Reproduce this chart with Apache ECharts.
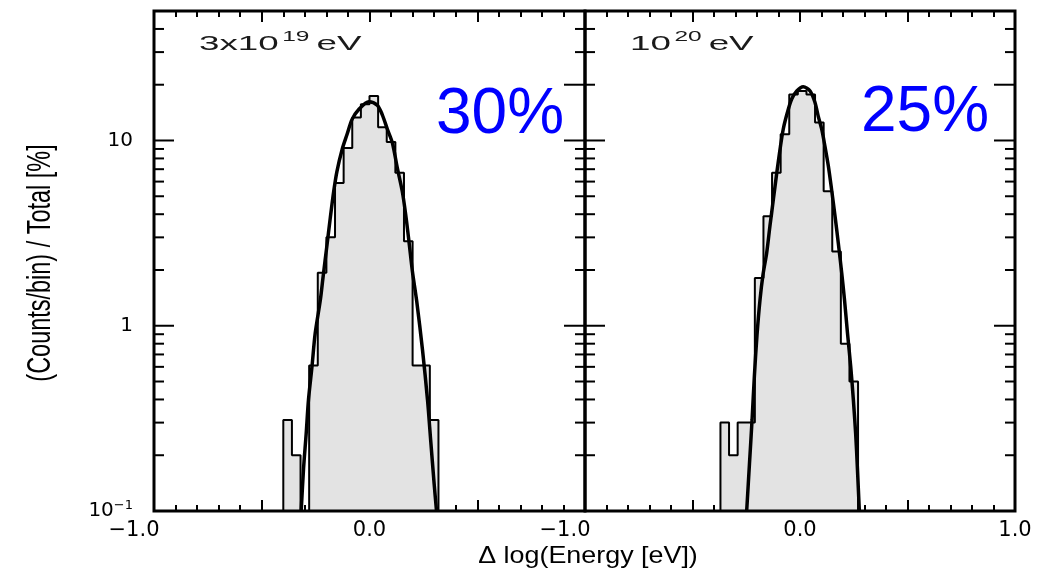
<!DOCTYPE html>
<html>
<head>
<meta charset="utf-8">
<script src="https://cdn.jsdelivr.net/npm/echarts@6/dist/echarts.min.js"></script>
<style>
html,body{margin:0;padding:0;background:#fff;}
#chart{width:1041px;height:577px;}
</style>
</head>
<body>
<div id="chart"></div>
<script>
// ---------------- data ----------------
const X_MIN = -1, X_MAX = 1;
const X_LABEL_VALUES = [-1, 0, 1];
const X_LABEL_TEXTS = ['\u22121.0', '0.0', '1.0'];
const Y_MIN = 0.1, Y_MAX = 50;
const Y_MAJOR_TICKS = [1, 10];
const Y_MINOR_TICKS = [0.2, 0.3, 0.4, 0.5, 0.6, 0.7, 0.8, 0.9, 2, 3, 4, 5, 6, 7, 8, 9, 20, 30, 40];
const Y_RIGHT_LONG_TICKS = [20];

// left panel: 3x10^19 eV
const leftEdges = [-0.40, -0.36, -0.32, -0.28, -0.24, -0.20, -0.16, -0.12, -0.08, -0.04, 0.00, 0.04, 0.08, 0.12, 0.16, 0.20, 0.24, 0.28, 0.32];
const leftCounts = [0.31, 0.20, 0, 0.61, 1.93, 3.0, 5.9, 9.1, 13.3, 15.7, 17.4, 11.8, 9.8, 6.7, 2.86, 0.61, 0.61, 0.31];
const leftFitX = [-0.317, -0.306, -0.294, -0.283, -0.267, -0.252, -0.228, -0.216, -0.197, -0.182, -0.166, -0.151, -0.127, -0.104, -0.081, -0.050, -0.003, 0.036, 0.059, 0.083, 0.106, 0.129, 0.152, 0.168, 0.183, 0.199, 0.219, 0.246, 0.269, 0.284, 0.300, 0.311];
const leftFitY = [0.10, 0.17, 0.26, 0.40, 0.60, 0.91, 1.38, 1.81, 2.74, 3.82, 5.32, 6.82, 8.94, 10.8, 13.0, 14.7, 16.2, 15.5, 13.8, 11.5, 9.72, 7.12, 5.32, 3.98, 2.86, 1.97, 1.36, 0.74, 0.40, 0.24, 0.14, 0.10];

// right panel: 10^20 eV
const rightEdges = [-0.37, -0.33, -0.29, -0.25, -0.21, -0.17, -0.13, -0.09, -0.05, -0.01, 0.03, 0.07, 0.11, 0.15, 0.19, 0.23, 0.27];
const rightCounts = [0.30, 0.20, 0.30, 0.30, 1.81, 3.9, 6.69, 10.8, 17.7, 18.5, 17.7, 12.5, 5.32, 2.52, 0.80, 0.50];
const rightFitX = [-0.248, -0.235, -0.223, -0.212, -0.200, -0.186, -0.172, -0.155, -0.140, -0.124, -0.108, -0.093, -0.078, -0.059, -0.039, -0.015, 0.015, 0.047, 0.070, 0.085, 0.101, 0.116, 0.132, 0.147, 0.163, 0.178, 0.194, 0.207, 0.221, 0.236, 0.248, 0.259, 0.267, 0.276];
const rightFitY = [0.10, 0.18, 0.31, 0.54, 0.89, 1.38, 1.89, 2.47, 3.44, 4.80, 6.69, 8.94, 11.5, 14.1, 16.7, 18.5, 19.5, 18.5, 16.0, 13.5, 11.5, 9.31, 7.26, 5.43, 3.90, 2.80, 1.93, 1.38, 0.91, 0.60, 0.40, 0.26, 0.17, 0.10];

const panelEnergyBase = ['3x10', '10'];
const panelEnergyExp = ['19', '20'];
const panelResolution = ['30%', '25%'];
const yAxisTitle = '(Counts/bin) / Total [%]';
const xAxisTitle = '\u0394 log(Energy [eV])';

// ---------------- helpers ----------------
function near(a, b) { return Math.abs(a - b) < 1e-6; }

function stepPoints(edges, counts) {
  const pts = [[edges[0], Y_MIN]];
  counts.forEach(function (c, i) {
    const v = Math.max(c, Y_MIN);
    pts.push([edges[i], v], [edges[i + 1], v]);
  });
  pts.push([edges[edges.length - 1], Y_MIN]);
  return pts;
}
function zip(xs, ys) { return xs.map(function (x, i) { return [x, ys[i]]; }); }

const FONT = '"Liberation Sans", Arial, sans-serif';
const TICK_FONT = '"DejaVu Sans", sans-serif';

function xAxisDef(gi, pos, labelValues) {
  return {
    type: 'value', gridIndex: gi, position: pos,
    min: X_MIN, max: X_MAX, interval: 0.5,
    axisLine: { show: false },
    axisTick: { show: true, inside: true, length: 11, lineStyle: { color: '#000', width: 2 } },
    minorTick: { show: true, splitNumber: 5, length: 6, lineStyle: { color: '#000', width: 2 } },
    splitLine: { show: false }, minorSplitLine: { show: false },
    axisLabel: {
      show: !!labelValues, margin: 9, fontSize: 21, fontFamily: TICK_FONT, color: '#000',
      formatter: function (v) {
        if (!labelValues) return '';
        for (let i = 0; i < X_LABEL_VALUES.length; i++) {
          if (near(v, X_LABEL_VALUES[i]) && labelValues.indexOf(X_LABEL_VALUES[i]) >= 0) {
            return X_LABEL_VALUES[i] < 0 ? '{n|' + X_LABEL_TEXTS[i] + '}' : X_LABEL_TEXTS[i];
          }
        }
        return '';
      },
      rich: {
        n: { fontSize: 21, fontFamily: TICK_FONT, color: '#000', padding: [0, 40, 0, 0] }
      }
    }
  };
}

function yAxisDef(gi, showLabels) {
  return {
    type: 'log', logBase: 10, gridIndex: gi, min: Y_MIN, max: Y_MAX,
    axisLine: { show: false }, axisTick: { show: false },
    minorTick: { show: false }, splitLine: { show: false },
    axisLabel: {
      show: showLabels, margin: 21, fontSize: 20, fontFamily: TICK_FONT, color: '#000',
      showMaxLabel: false,
      formatter: function (v) {
        if (near(v, 0.1)) return '{b|10}{s|\u22121}';
        if (near(v, 1)) return '1';
        if (near(v, 10)) return '10';
        return '';
      },
      rich: {
        b: { fontSize: 20, fontFamily: TICK_FONT, color: '#000', lineHeight: 24 },
        s: { fontSize: 13, fontFamily: TICK_FONT, color: '#000', lineHeight: 12, verticalAlign: 'top' }
      }
    }
  };
}

function yTickSeries(gi) {
  return {
    type: 'custom', xAxisIndex: gi * 2, yAxisIndex: gi, z: 6, silent: true,
    encode: { x: 0, y: 1 },
    data: Y_MAJOR_TICKS.concat(Y_MINOR_TICKS).map(function (v) { return [X_MIN, v]; }),
    renderItem: function (params, api) {
      const v = api.value(1);
      const isMajor = Y_MAJOR_TICKS.indexOf(v) >= 0;
      const rightLong = isMajor || Y_RIGHT_LONG_TICKS.indexOf(v) >= 0;
      const pL = api.coord([X_MIN, v]);
      const pR = api.coord([X_MAX, v]);
      const lenL = isMajor ? 20 : 10;
      const lenR = rightLong ? 21 : 10;
      const st = { stroke: '#000', lineWidth: 2 };
      return {
        type: 'group',
        children: [
          { type: 'line', shape: { x1: pL[0], y1: pL[1], x2: pL[0] + lenL, y2: pL[1] }, style: st },
          { type: 'line', shape: { x1: pR[0] - lenR, y1: pR[1], x2: pR[0], y2: pR[1] }, style: st }
        ]
      };
    }
  };
}

function histSeries(gi, edges, counts) {
  return {
    type: 'line', xAxisIndex: gi * 2, yAxisIndex: gi, z: 2,
    data: stepPoints(edges, counts),
    showSymbol: false, symbol: 'none', silent: true,
    lineStyle: { color: '#000', width: 2 },
    areaStyle: { color: '#e3e3e3', opacity: 1, origin: 'start' }
  };
}
function fitSeries(gi, xs, ys) {
  return {
    type: 'line', xAxisIndex: gi * 2, yAxisIndex: gi, z: 3,
    data: zip(xs, ys), smooth: 0.3,
    showSymbol: false, symbol: 'none', silent: true,
    lineStyle: { color: '#000', width: 3.5 }
  };
}

function energyLabel(i, x, y) {
  return {
    type: 'text', x: x, y: y, scaleX: 1.75, z: 10,
    style: {
      text: '{b|' + panelEnergyBase[i] + '}{s|' + panelEnergyExp[i] + '}{b|eV}',
      textAlign: 'left', textVerticalAlign: 'middle',
      rich: {
        b: { fontSize: 21, fontFamily: FONT, fill: '#1a1a1a', lineHeight: 27 },
        s: { fontSize: 14, fontFamily: FONT, fill: '#1a1a1a', lineHeight: 13, verticalAlign: 'top', padding: [0, 4, 0, 2] }
      }
    }
  };
}

const chart = echarts.init(document.getElementById('chart'));
chart.setOption({
  animation: false,
  backgroundColor: '#fff',
  grid: [
    { left: 154, top: 11, width: 431, height: 500, show: true, borderColor: '#000', borderWidth: 3, backgroundColor: 'transparent', z: 5 },
    { left: 585, top: 11, width: 430, height: 500, show: true, borderColor: '#000', borderWidth: 3, backgroundColor: 'transparent', z: 5 }
  ],
  xAxis: [
    xAxisDef(0, 'bottom', [-1, 0]),
    xAxisDef(0, 'top', null),
    xAxisDef(1, 'bottom', [-1, 0, 1]),
    xAxisDef(1, 'top', null)
  ],
  yAxis: [yAxisDef(0, true), yAxisDef(1, false)],
  series: [
    histSeries(0, leftEdges, leftCounts),
    fitSeries(0, leftFitX, leftFitY),
    histSeries(1, rightEdges, rightCounts),
    fitSeries(1, rightFitX, rightFitY),
    yTickSeries(0),
    yTickSeries(1)
  ],
  graphic: [
    energyLabel(0, 199, 44),
    energyLabel(1, 630, 44),
    { type: 'text', x: 436, y: 115, z: 10,
      style: { text: panelResolution[0], font: '64px ' + FONT, fill: '#0000ff', textAlign: 'left', textVerticalAlign: 'middle' } },
    { type: 'text', x: 861, y: 113, z: 10,
      style: { text: panelResolution[1], font: '64px ' + FONT, fill: '#0000ff', textAlign: 'left', textVerticalAlign: 'middle' } },
    { type: 'text', x: 41, y: 263, rotation: Math.PI / 2, scaleX: 0.69, z: 10,
      style: { text: yAxisTitle, font: '34px ' + FONT, fill: '#000', textAlign: 'center', textVerticalAlign: 'middle' } },
    { type: 'text', x: 588, y: 556, scaleX: 1.12, z: 10,
      style: { text: xAxisTitle, font: '24px ' + FONT, fill: '#000', textAlign: 'center', textVerticalAlign: 'middle' } }
  ]
});
</script>
</body>
</html>
